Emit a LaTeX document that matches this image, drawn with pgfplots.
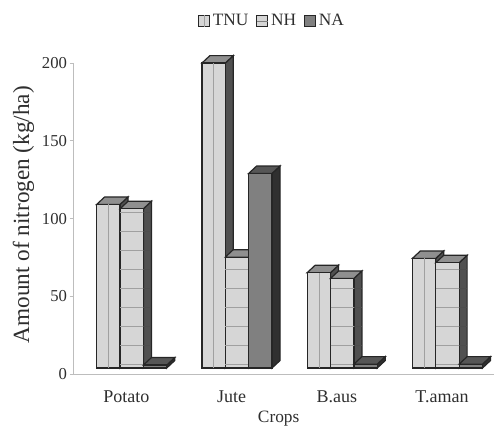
\documentclass[border=0pt]{standalone}
\usepackage{fontspec}
\setmainfont{Liberation Serif}
\usepackage{pgfplots}
\pgfplotsset{compat=1.18}

\definecolor{txt}{HTML}{2E2E2E}
\definecolor{axgray}{HTML}{BDBDBD}
\definecolor{edge}{HTML}{262626}
\definecolor{lightf}{HTML}{D6D6D6}
\definecolor{lightt}{HTML}{8F8F8F}
\definecolor{lights}{HTML}{505050}
\definecolor{darkf}{HTML}{808080}
\definecolor{darkt}{HTML}{565656}
\definecolor{darks}{HTML}{303030}
\definecolor{hatch}{HTML}{A0A0A0}

% bar geometry in axis units
\def\bw{0.2220}
\def\dx{0.076}
\def\dy{4.8}
\def\base{3.9}

% #1 left edge, #2 value, #3 front, #4 top, #5 side
\newcommand{\threedbar}[5]{%
  \pgfmathsetmacro\xr{#1+\bw}%
  \pgfmathsetmacro\xa{#1+\dx}%
  \pgfmathsetmacro\xb{\xr+\dx}%
  \pgfmathsetmacro\yb{#2+\dy}%
  \pgfmathsetmacro\bb{\base+\dy}%
  \edef\tmp{%
    \noexpand\addplot[barline,fill=#5] coordinates {(\xr,\base)(\xb,\bb)(\xb,\yb)(\xr,#2)} --cycle;
    \noexpand\addplot[barline,fill=#4] coordinates {(#1,#2)(\xr,#2)(\xb,\yb)(\xa,\yb)} --cycle;
    \noexpand\addplot[barline,fill=#3] coordinates {(#1,\base)(\xr,\base)(\xr,#2)(#1,#2)} --cycle;
  }\tmp
}
% vertical centre line of the TNU bars
\newcommand{\vhatch}[2]{%
  \pgfmathsetmacro\xm{#1+\bw/2}%
  \edef\tmp{\noexpand\addplot[hatchline] coordinates {(\xm,\base)(\xm,#2)};}\tmp
}
% horizontal lines of the NH bars
\newcommand{\hhatch}[2]{%
  \pgfmathsetmacro\xr{#1+\bw}%
  \pgfmathsetmacro\xb{\xr+\dx}%
  \pgfplotsforeachungrouped \g in {6.4,18.7,30.9,43.1,55.3,67.5,79.8,92,104.2}{%
    \ifdim\g pt<#2 pt
      \edef\tmp{\noexpand\addplot[hatchline] coordinates {(#1,\g)(\xr,\g)};
        \noexpand\addplot[hatchline,draw=black!70] coordinates {(\xr,\g)(\xb,\g)};}\tmp
    \fi
  }%
}

\begin{document}
\begin{tikzpicture}[x=0.75pt,y=0.75pt]
\useasboundingbox (0,0) rectangle (494,426);
\begin{axis}[
    at={(70,33.4)},
    anchor=south west,
    scale only axis,
    width=315.75pt,
    height=233.25pt,
    xmin=0, xmax=4,
    ymin=0, ymax=200,
    clip=false,
    axis y line=left,
    axis x line=bottom,
    axis line style={draw=axgray,line width=0.8pt,-},
    xtick={0.5,1.5,2.5,3.5},
    xticklabels={Potato,Jute,B.aus,T.aman},
    minor xtick={1,2,3},
    ytick={0,50,100,150,200},
    tick align=outside,
    xtick style={draw=none},
    minor tick length=3pt,
    minor tick style={draw=axgray,line width=0.8pt},
    ytick style={draw=axgray,line width=0.8pt},
    major tick length=3pt,
    yticklabel style={font=\fontsize{12.5}{14}\selectfont,text=txt,xshift=1.5pt},
    xticklabel style={font=\fontsize{13.5}{15}\selectfont,text=txt,yshift=-6pt},
    /pgf/number format/assume math mode=true,
    ylabel={Amount of nitrogen (kg/ha)},
    ylabel style={font=\fontsize{17.4}{19}\selectfont,text=txt,yshift=-1pt,xshift=3pt},
    xlabel={Crops},
    xlabel style={font=\fontsize{13}{15}\selectfont,text=txt,at={(rel axis cs:0.487,0)},anchor=north,yshift=-24.5pt},
    barline/.style={draw=edge,line width=0.9pt,mark=none,forget plot,line join=miter},
    hatchline/.style={draw=hatch,line width=0.5pt,mark=none,forget plot},
    legend style={draw=none,fill=none,at={(rel axis cs:0.295,1.135)},anchor=west,
      font=\fontsize{13}{15}\selectfont,text=txt,/tikz/every even column/.append style={column sep=4pt},
      inner sep=0pt},
    legend columns=3,
]
% Potato
\threedbar{0.2185}{109.1}{lightf}{lightt}{lights}
\vhatch{0.2185}{109.1}
\threedbar{0.4405}{106.3}{lightf}{lightt}{lights}
\hhatch{0.4405}{106.3}
\threedbar{0.6625}{5.8}{darkf}{darkt}{darks}
% Jute
\threedbar{1.2185}{200}{lightf}{lightt}{lights}
\vhatch{1.2185}{200}
\threedbar{1.4405}{75.2}{lightf}{lightt}{lights}
\hhatch{1.4405}{75.2}
\threedbar{1.6625}{129}{darkf}{darkt}{darks}
% B.aus
\threedbar{2.2185}{65.2}{lightf}{lightt}{lights}
\vhatch{2.2185}{65.2}
\threedbar{2.4405}{61.5}{lightf}{lightt}{lights}
\hhatch{2.4405}{61.5}
\threedbar{2.6625}{6.4}{darkf}{darkt}{darks}
% T.aman
\threedbar{3.2185}{74.4}{lightf}{lightt}{lights}
\vhatch{3.2185}{74.4}
\threedbar{3.4405}{71.6}{lightf}{lightt}{lights}
\hhatch{3.4405}{71.6}
\threedbar{3.6625}{6.4}{darkf}{darkt}{darks}

\addlegendimage{legend image code/.code={
  \draw[draw=edge,fill=lightf,line width=0.8pt] (0pt,-4.2pt) rectangle (8.2pt,4.2pt);
  \draw[hatch,line width=0.4pt] (4.1pt,-4.2pt) -- (4.1pt,4.2pt);}}
\addlegendentry{TNU}
\addlegendimage{legend image code/.code={
  \draw[draw=edge,fill=lightf,line width=0.8pt] (0pt,-4.2pt) rectangle (8.2pt,4.2pt);
  \draw[darkf,line width=0.4pt] (0pt,0pt) -- (8.2pt,0pt);}}
\addlegendentry{NH}
\addlegendimage{legend image code/.code={
  \draw[draw=edge,fill=darkf,line width=0.8pt] (0pt,-4.2pt) rectangle (8.2pt,4.2pt);}}
\addlegendentry{NA}
\end{axis}
\end{tikzpicture}
\end{document}
